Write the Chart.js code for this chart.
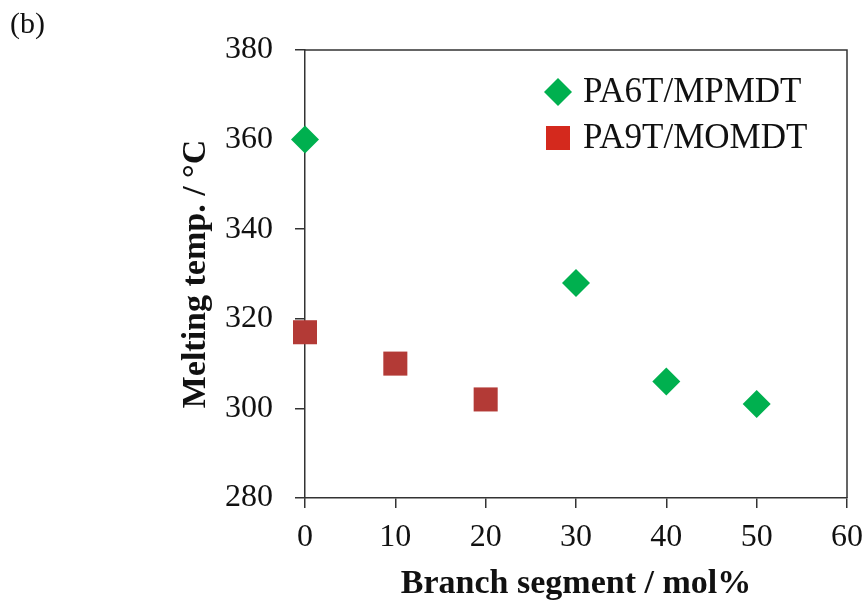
<!DOCTYPE html>
<html>
<head>
<meta charset="utf-8">
<script src="https://cdn.jsdelivr.net/npm/chart.js@4"></script>
<style>
  html, body { margin: 0; padding: 0; background: #fff; }
  #wrap { width: 866px; height: 605px; }
</style>
</head>
<body>
<div id="wrap"><canvas id="grafica"></canvas></div>
<script>
// datos
var serieNombres = ['PA6T/MPMDT', 'PA9T/MOMDT'];
var pa6tX = [0, 30, 40, 50];
var pa6tY = [360, 328, 306, 301];
var pa9tX = [0, 10, 20];
var pa9tY = [317, 310, 302];
var xTicks = [0, 10, 20, 30, 40, 50, 60];
var yTicks = [280, 300, 320, 340, 360, 380];
var colorVerde = '#00b04f';
var colorRojo = '#b33a36';
var colorRojoLeyenda = '#d4291d';

var fuente = '"Liberation Serif", "Times New Roman", serif';

function puntos(xs, ys){
    var out = [];
    for (var i = 0; i < xs.length; i++) out.push({x: xs[i], y: ys[i]});
    return out;
}

// marco de arriba y derecha + leyenda + "(b)"
var extras = {
    id: 'extras',
    afterDraw: function(chart){
        var c = chart.ctx;
        var a = chart.chartArea;
        c.save();
        c.strokeStyle = '#333';
        c.lineWidth = 1.5;
        c.beginPath();
        c.moveTo(a.left, a.top);
        c.lineTo(a.right, a.top);
        c.lineTo(a.right, a.bottom);
        c.stroke();

        // leyenda
        var mx = a.right - 289;
        var y1 = a.top + 42;
        var y2 = a.top + 88;
        c.fillStyle = colorVerde;
        c.beginPath();
        c.moveTo(mx - 14, y1);
        c.lineTo(mx, y1 - 14);
        c.lineTo(mx + 14, y1);
        c.lineTo(mx, y1 + 14);
        c.closePath();
        c.fill();
        c.fillStyle = colorRojoLeyenda;
        c.fillRect(mx - 12, y2 - 12, 24, 24);

        c.fillStyle = '#111';
        c.font = '35px ' + fuente;
        c.textBaseline = 'middle';
        c.textAlign = 'left';
        c.fillText(serieNombres[0], mx + 25, y1 + 1);
        c.fillText(serieNombres[1], mx + 25, y2 + 1);

        c.font = '30px ' + fuente;
        c.fillText('(b)', 10, 25);
        c.restore();
    }
};

var ctx = document.getElementById('grafica').getContext('2d');
var grafica = new Chart(ctx, {
    type: 'scatter',
    data: {
        datasets: [{
            label: serieNombres[0],
            data: puntos(pa6tX, pa6tY),
            pointStyle: 'rectRot',
            pointRadius: 14,
            pointHoverRadius: 14,
            backgroundColor: colorVerde,
            borderColor: colorVerde,
            borderWidth: 0,
            clip: false
        }, {
            label: serieNombres[1],
            data: puntos(pa9tX, pa9tY),
            pointStyle: 'rect',
            pointRadius: 17,
            pointHoverRadius: 17,
            backgroundColor: colorRojo,
            borderColor: colorRojo,
            borderWidth: 0,
            clip: false
        }]
    },
    options: {
        responsive: true,
        maintainAspectRatio: false,
        animation: false,
        layout: {
            padding: {left: 170, right: 19, top: 50, bottom: 0}
        },
        plugins: {
            legend: {display: false},
            tooltip: {enabled: false}
        },
        scales: {
            x: {
                type: 'linear',
                min: 0,
                max: 60,
                afterFit: function(s){ s.height = 107; s.paddingLeft = 0; s.paddingRight = 0; },
                afterBuildTicks: function(s){ s.ticks = xTicks.map(function(v){ return {value: v}; }); },
                ticks: {
                    color: '#111',
                    padding: 10,
                    maxRotation: 0,
                    font: {family: fuente, size: 32}
                },
                grid: {
                    drawOnChartArea: false,
                    drawTicks: true,
                    tickLength: 10,
                    color: '#333',
                    lineWidth: 1.5
                },
                border: {color: '#333', width: 1.5},
                title: {
                    display: true,
                    text: 'Branch segment / mol%',
                    color: '#111',
                    padding: {top: 0, bottom: 0},
                    font: {family: fuente, size: 34, weight: 'bold'}
                }
            },
            y: {
                type: 'linear',
                min: 280,
                max: 380,
                afterFit: function(s){ s.width = 135; s.paddingTop = 0; s.paddingBottom = 0; },
                afterBuildTicks: function(s){ s.ticks = yTicks.map(function(v){ return {value: v}; }); },
                ticks: {
                    color: '#111',
                    padding: 22,
                    font: {family: fuente, size: 32}
                },
                grid: {
                    drawOnChartArea: false,
                    drawTicks: true,
                    tickLength: 10,
                    color: '#333',
                    lineWidth: 1.5
                },
                border: {color: '#333', width: 1.5},
                title: {
                    display: true,
                    text: 'Melting temp. / \u00b0C',
                    color: '#111',
                    padding: {top: 6, bottom: 0},
                    font: {family: fuente, size: 34, weight: 'bold'}
                }
            }
        }
    },
    plugins: [extras]
});
</script>
</body>
</html>
